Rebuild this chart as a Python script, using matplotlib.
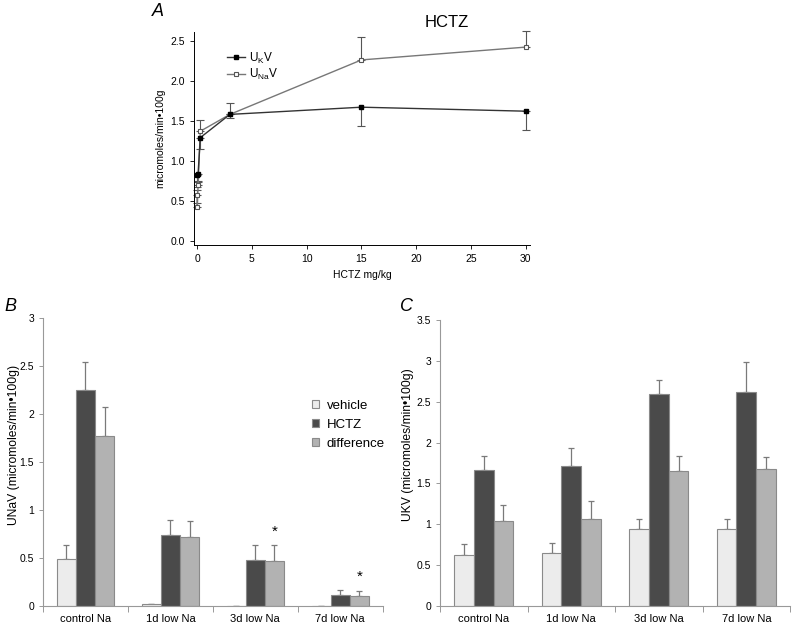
import numpy as np
import matplotlib.pyplot as plt

plt.rcParams['font.family'] = ['Liberation Sans', 'DejaVu Sans']

# Panel A: dose response
dosis_k = [0, 0.1, 0.3, 3, 15, 30]
ukv = [0.82, 0.84, 1.29, 1.58, 1.67, 1.62]
ukv_err = [0.14, 0.10, 0.14, 0.05, 0.24, 0.24]
dosis_na = [0, 0.03, 0.1, 0.3, 3, 15, 30]
unav = [0.58, 0.43, 0.70, 1.37, 1.58, 2.26, 2.42]
unav_err = [0.06, 0.05, 0.05, 0.14, 0.14, 0.28, 0.20]

# Panels B and C
grupos = ['control Na', '1d low Na', '3d low Na', '7d low Na']
series = ['vehicle', 'HCTZ', 'difference']
colores = ['#ececec', '#4a4a4a', '#b2b2b2']

una_vals = [[0.49, 0.02, 0.005, 0.005],
            [2.25, 0.74, 0.48, 0.11],
            [1.77, 0.72, 0.47, 0.10]]
una_err = [[0.15, 0.005, 0.0, 0.0],
           [0.29, 0.16, 0.16, 0.06],
           [0.30, 0.16, 0.16, 0.06]]
una_star = [False, False, True, True]

uk_vals = [[0.63, 0.65, 0.94, 0.94],
           [1.67, 1.71, 2.59, 2.62],
           [1.04, 1.06, 1.65, 1.68]]
uk_err = [[0.13, 0.12, 0.12, 0.12],
          [0.16, 0.22, 0.18, 0.37],
          [0.20, 0.23, 0.19, 0.14]]

fig = plt.figure(figsize=(7.92, 6.25), dpi=100)

# ---- Panel A ----
axA = fig.add_axes([0.245, 0.608, 0.424, 0.341])
axA.plot(dosis_na, unav, color='#777777', lw=1, marker='s', ms=3.5,
         mfc='white', mec='#555555', mew=0.8, label=r'U$_{\mathregular{Na}}$V', zorder=3)
axA.errorbar(dosis_na, unav, yerr=[np.zeros(len(unav_err)), unav_err], fmt='none',
             ecolor='#555555', elinewidth=0.8, capsize=3, capthick=0.8, clip_on=False)
axA.plot(dosis_k, ukv, color='#333333', lw=1, marker='s', ms=3.5,
         mfc='black', mec='black', label=r'U$_{\mathregular{K}}$V', zorder=4)
axA.errorbar(dosis_k, ukv, yerr=[ukv_err, np.zeros(len(ukv_err))], fmt='none',
             ecolor='#555555', elinewidth=0.8, capsize=3, capthick=0.8)
axA.set_xlim(-0.27, 30.36)
axA.set_ylim(-0.05, 2.61)
axA.set_xticks([0, 5, 10, 15, 20, 25, 30])
axA.set_yticks([0, 0.5, 1.0, 1.5, 2.0, 2.5])
axA.set_yticklabels(['0.0', '0.5', '1.0', '1.5', '2.0', '2.5'])
axA.tick_params(labelsize=7.5, length=3, width=0.6)
axA.spines['top'].set_visible(False)
axA.spines['right'].set_visible(False)
for s in ['left', 'bottom']:
    axA.spines[s].set_linewidth(0.7)
axA.set_xlabel('HCTZ mg/kg', fontsize=7.5)
axA.set_ylabel('micromoles/min•100g', fontsize=7.5)
h, l = axA.get_legend_handles_labels()
axA.legend(h[::-1], l[::-1], loc='upper left', bbox_to_anchor=(0.085, 0.935),
           frameon=False, fontsize=8.5, handlelength=1.5, handletextpad=0.3,
           labelspacing=0.15, borderaxespad=0)
axA.text(0.753, 1.045, 'HCTZ', transform=axA.transAxes, fontsize=12,
         ha='center', va='center')
fig.text(0.192, 0.982, 'A', fontsize=13, style='italic', va='center')


def barras(ax, vals, errs, ylim, yticks, ylabel, lab_x, lab_y, estrellas=None):
    x = np.arange(len(grupos))
    w = 0.225
    for i, (v, e) in enumerate(zip(vals, errs)):
        pos = x + (i - 1) * w
        ax.bar(pos, v, w, color=colores[i], edgecolor='#8a8a8a', linewidth=0.8,
               label=series[i], zorder=2)
        ax.errorbar(pos, v, yerr=[np.zeros(len(e)), e], fmt='none',
                    ecolor='#7a7a7a', elinewidth=0.9, capsize=2.5, capthick=0.9, zorder=1)
    if estrellas is not None:
        for j, st in enumerate(estrellas):
            if st:
                ax.text(x[j] + w, vals[2][j] + errs[2][j] + 0.07, '*',
                        ha='center', va='bottom', fontsize=11)
    ax.set_xlim(-0.5, len(grupos) - 0.5)
    ax.set_ylim(*ylim)
    ax.set_xticks(x)
    ax.set_xticklabels(grupos)
    ax.set_xticks(np.arange(len(grupos) + 1) - 0.5, minor=True)
    ax.tick_params(axis='x', which='major', length=0, labelsize=8, pad=6)
    ax.tick_params(axis='x', which='minor', length=4, color='#999999', width=0.7)
    ax.tick_params(axis='y', length=3, color='#999999', width=0.7, labelsize=7.5)
    ax.set_yticks(yticks)
    ax.set_yticklabels(['%g' % t for t in yticks])
    ax.spines['top'].set_visible(False)
    ax.spines['right'].set_visible(False)
    for s in ['left', 'bottom']:
        ax.spines[s].set_color('#999999')
        ax.spines[s].set_linewidth(0.8)
    ax.set_ylabel(ylabel, fontsize=8.7)
    ax.yaxis.set_label_coords(lab_x, lab_y)


axB = fig.add_axes([0.0543, 0.0304, 0.429, 0.461])
barras(axB, una_vals, una_err, (0, 3), [0, 0.5, 1, 1.5, 2, 2.5, 3],
       'UNaV (micromoles/min•100g)', -0.067, 0.56, una_star)
axB.legend(loc='upper left', bbox_to_anchor=(0.775, 0.735), frameon=False,
           fontsize=9.5, handlelength=0.55, handleheight=0.55, handletextpad=0.6,
           labelspacing=0.55, borderaxespad=0)
fig.text(0.005, 0.51, 'B', fontsize=13, style='italic', va='center')

axC = fig.add_axes([0.5556, 0.0304, 0.442, 0.4576])
barras(axC, uk_vals, uk_err, (0, 3.5), [0, 0.5, 1, 1.5, 2, 2.5, 3, 3.5],
       'UKV (micromoles/min•100g)', -0.074, 0.563)
fig.text(0.505, 0.51, 'C', fontsize=13, style='italic', va='center')

plt.savefig('out.png', dpi=100)
